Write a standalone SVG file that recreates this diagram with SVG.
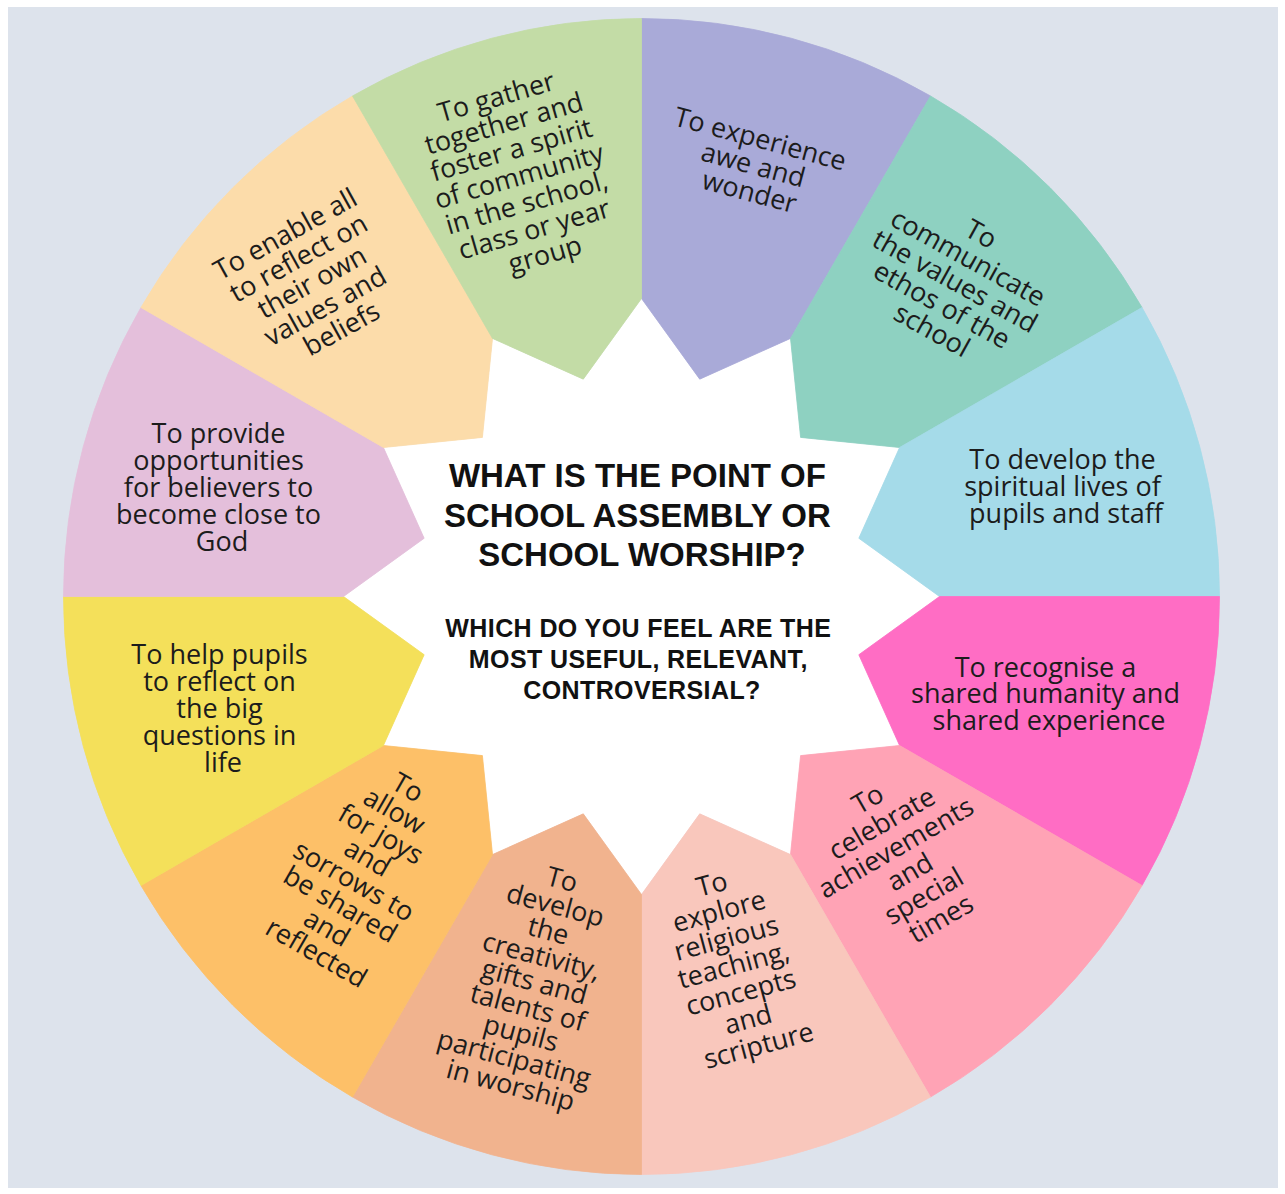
<svg xmlns="http://www.w3.org/2000/svg" width="1285" height="1194" viewBox="0 0 1285 1194">
  <style>
    .lbl { font-family: "Open Sans", "DejaVu Sans", sans-serif; font-size: 27px; font-weight: 500; fill: #1c1c1c; text-anchor: middle; }
    .ttl { font-family: "Liberation Sans", Arial, sans-serif; font-weight: bold; font-size: 33px; fill: #111111; text-anchor: middle; }
    .sub { font-family: "Liberation Sans", Arial, sans-serif; font-weight: bold; font-size: 25px; letter-spacing: 0.4px; fill: #111111; text-anchor: middle; }
    .s1 { fill: #a9aad8; stroke: #a9aad8; }
    .s2 { fill: #8ed1c1; stroke: #8ed1c1; }
    .s3 { fill: #a5dbe9; stroke: #a5dbe9; }
    .s4 { fill: #ff6dc4; stroke: #ff6dc4; }
    .s5 { fill: #ffa3b5; stroke: #ffa3b5; }
    .s6 { fill: #f9c7bc; stroke: #f9c7bc; }
    .s7 { fill: #f1b38e; stroke: #f1b38e; }
    .s8 { fill: #fdc068; stroke: #fdc068; }
    .s9 { fill: #f4e05a; stroke: #f4e05a; }
    .s10 { fill: #e4bfdb; stroke: #e4bfdb; }
    .s11 { fill: #fcdcaa; stroke: #fcdcaa; }
    .s12 { fill: #c3dca6; stroke: #c3dca6; }
    path { stroke-width: 0.8; stroke-linejoin: round; }
  </style>

  <!-- page frame and backdrop -->
  <rect x="0" y="0" width="1285" height="1194" fill="#ffffff"/>
  <rect x="8" y="7" width="1270" height="1181" fill="#dde3ec"/>

  <!-- white twelve-point star in the middle of the wheel -->
  <polygon fill="#ffffff" points="641.5,298.5 699.73,379.17 790.5,338.42 800.6,437.4 899.58,447.5 858.83,538.27 939.5,596.5 858.83,654.73 899.58,745.5 800.6,755.6 790.5,854.58 699.73,813.83 641.5,894.5 583.27,813.83 492.5,854.58 482.4,755.6 383.42,745.5 424.17,654.73 343.5,596.5 424.17,538.27 383.42,447.5 482.4,437.4 492.5,338.42 583.27,379.17"/>

  <g id="awe-and-wonder">
    <path class="s1" d="M641.5,18.5 A578,578 0 0 1 930.5,95.94 L790.5,338.42 L699.73,379.17 L641.5,298.5 Z"/>
    <text class="lbl" transform="translate(756,168) rotate(15)">
      <tspan x="0" y="-20">To experience</tspan>
      <tspan x="0" y="7">awe and</tspan>
      <tspan x="0" y="34">wonder</tspan>
    </text>
  </g>

  <g id="values-and-ethos">
    <path class="s2" d="M930.5,95.94 A578,578 0 0 1 1142.06,307.5 L899.58,447.5 L800.6,437.4 L790.5,338.42 Z"/>
    <text class="lbl" transform="translate(957,285) rotate(29)">
      <tspan x="0" y="-47">To</tspan>
      <tspan x="0" y="-20">communicate</tspan>
      <tspan x="0" y="7">the values and</tspan>
      <tspan x="0" y="34">ethos of the</tspan>
      <tspan x="0" y="61">school</tspan>
    </text>
  </g>

  <g id="spiritual-lives">
    <path class="s3" d="M1142.06,307.5 A578,578 0 0 1 1219.5,596.5 L939.5,596.5 L858.83,538.27 L899.58,447.5 Z"/>
    <text class="lbl" transform="translate(1066,489)">
      <tspan x="0" y="-20">To develop the</tspan>
      <tspan x="0" y="7">spiritual lives of</tspan>
      <tspan x="0" y="34">pupils and staff</tspan>
    </text>
  </g>

  <g id="shared-humanity">
    <path class="s4" d="M1219.5,596.5 A578,578 0 0 1 1142.06,885.5 L899.58,745.5 L858.83,654.73 L939.5,596.5 Z"/>
    <text class="lbl" transform="translate(1049,696)">
      <tspan x="0" y="-19.5">To recognise a</tspan>
      <tspan x="0" y="7">shared humanity and</tspan>
      <tspan x="0" y="33.5">shared experience</tspan>
    </text>
  </g>

  <g id="celebrate-achievements">
    <path class="s5" d="M1142.06,885.5 A578,578 0 0 1 930.5,1097.06 L790.5,854.58 L800.6,755.6 L899.58,745.5 Z"/>
    <text class="lbl" transform="translate(907,860) rotate(-30)">
      <tspan x="0" y="-63">To</tspan>
      <tspan x="0" y="-35">celebrate</tspan>
      <tspan x="0" y="-7">achievements</tspan>
      <tspan x="0" y="21">and</tspan>
      <tspan x="0" y="49">special</tspan>
      <tspan x="0" y="77">times</tspan>
    </text>
  </g>

  <g id="explore-religious-teaching">
    <path class="s6" d="M930.5,1097.06 A578,578 0 0 1 641.5,1174.5 L641.5,894.5 L699.73,813.83 L790.5,854.58 Z"/>
    <text class="lbl" transform="translate(737.5,966.5) rotate(-15)">
      <tspan x="0" y="-77">To</tspan>
      <tspan x="0" y="-49">explore</tspan>
      <tspan x="0" y="-21">religious</tspan>
      <tspan x="0" y="7">teaching,</tspan>
      <tspan x="0" y="35">concepts</tspan>
      <tspan x="0" y="63">and</tspan>
      <tspan x="0" y="91">scripture</tspan>
    </text>
  </g>

  <g id="creativity-and-gifts">
    <path class="s7" d="M641.5,1174.5 A578,578 0 0 1 352.5,1097.06 L492.5,854.58 L583.27,813.83 L641.5,894.5 Z"/>
    <text class="lbl" transform="translate(537.5,985) rotate(15)">
      <tspan x="0" y="-99">To</tspan>
      <tspan x="0" y="-72.5">develop</tspan>
      <tspan x="0" y="-46">the</tspan>
      <tspan x="0" y="-19.5">creativity,</tspan>
      <tspan x="0" y="7">gifts and</tspan>
      <tspan x="0" y="33.5">talents of</tspan>
      <tspan x="0" y="60">pupils</tspan>
      <tspan x="0" y="86.5">participating</tspan>
      <tspan x="0" y="113">in worship</tspan>
    </text>
  </g>

  <g id="joys-and-sorrows">
    <path class="s8" d="M352.5,1097.06 A578,578 0 0 1 140.94,885.5 L383.42,745.5 L482.4,755.6 L492.5,854.58 Z"/>
    <text class="lbl" transform="translate(362.5,873) rotate(30)">
      <tspan x="0" y="-87.5">To</tspan>
      <tspan x="0" y="-60.5">allow</tspan>
      <tspan x="0" y="-33.5">for joys</tspan>
      <tspan x="0" y="-6.5">and</tspan>
      <tspan x="0" y="20.5">sorrows to</tspan>
      <tspan x="0" y="47.5">be shared</tspan>
      <tspan x="0" y="74.5">and</tspan>
      <tspan x="0" y="101.5">reflected</tspan>
    </text>
  </g>

  <g id="big-questions">
    <path class="s9" d="M140.94,885.5 A578,578 0 0 1 63.5,596.5 L343.5,596.5 L424.17,654.73 L383.42,745.5 Z"/>
    <text class="lbl" transform="translate(223,711)">
      <tspan x="0" y="-47">To help pupils</tspan>
      <tspan x="0" y="-20">to reflect on</tspan>
      <tspan x="0" y="7">the big</tspan>
      <tspan x="0" y="34">questions in</tspan>
      <tspan x="0" y="61">life</tspan>
    </text>
  </g>

  <g id="close-to-god">
    <path class="s10" d="M63.5,596.5 A578,578 0 0 1 140.94,307.5 L383.42,447.5 L424.17,538.27 L343.5,596.5 Z"/>
    <text class="lbl" transform="translate(222,490)">
      <tspan x="0" y="-47">To provide</tspan>
      <tspan x="0" y="-20">opportunities</tspan>
      <tspan x="0" y="7">for believers to</tspan>
      <tspan x="0" y="34">become close to</tspan>
      <tspan x="0" y="61">God</tspan>
    </text>
  </g>

  <g id="own-values-and-beliefs">
    <path class="s11" d="M140.94,307.5 A578,578 0 0 1 352.5,95.94 L492.5,338.42 L482.4,437.4 L383.42,447.5 Z"/>
    <text class="lbl" transform="translate(316,282.5) rotate(-29)">
      <tspan x="0" y="-48">To enable all</tspan>
      <tspan x="0" y="-20.5">to reflect on</tspan>
      <tspan x="0" y="7">their own</tspan>
      <tspan x="0" y="34.5">values and</tspan>
      <tspan x="0" y="62">beliefs</tspan>
    </text>
  </g>

  <g id="spirit-of-community">
    <path class="s12" d="M352.5,95.94 A578,578 0 0 1 641.5,18.5 L641.5,298.5 L583.27,379.17 L492.5,338.42 Z"/>
    <text class="lbl" transform="translate(523,177.5) rotate(-16)">
      <tspan x="0" y="-75.5">To gather</tspan>
      <tspan x="0" y="-48">together and</tspan>
      <tspan x="0" y="-20.5">foster a spirit</tspan>
      <tspan x="0" y="7">of community</tspan>
      <tspan x="0" y="34.5">in the school,</tspan>
      <tspan x="0" y="62">class or year</tspan>
      <tspan x="0" y="89.5">group</tspan>
    </text>
  </g>

  <g id="central-question">
    <text class="ttl">
      <tspan x="642" y="487">WHAT IS THE POINT OF</tspan>
      <tspan x="642" y="527">SCHOOL ASSEMBLY OR</tspan>
      <tspan x="642" y="566">SCHOOL WORSHIP?</tspan>
    </text>
    <text class="sub">
      <tspan x="642" y="637">WHICH DO YOU FEEL ARE THE</tspan>
      <tspan x="642" y="668">MOST USEFUL, RELEVANT,</tspan>
      <tspan x="642" y="699">CONTROVERSIAL?</tspan>
    </text>
  </g>
</svg>
